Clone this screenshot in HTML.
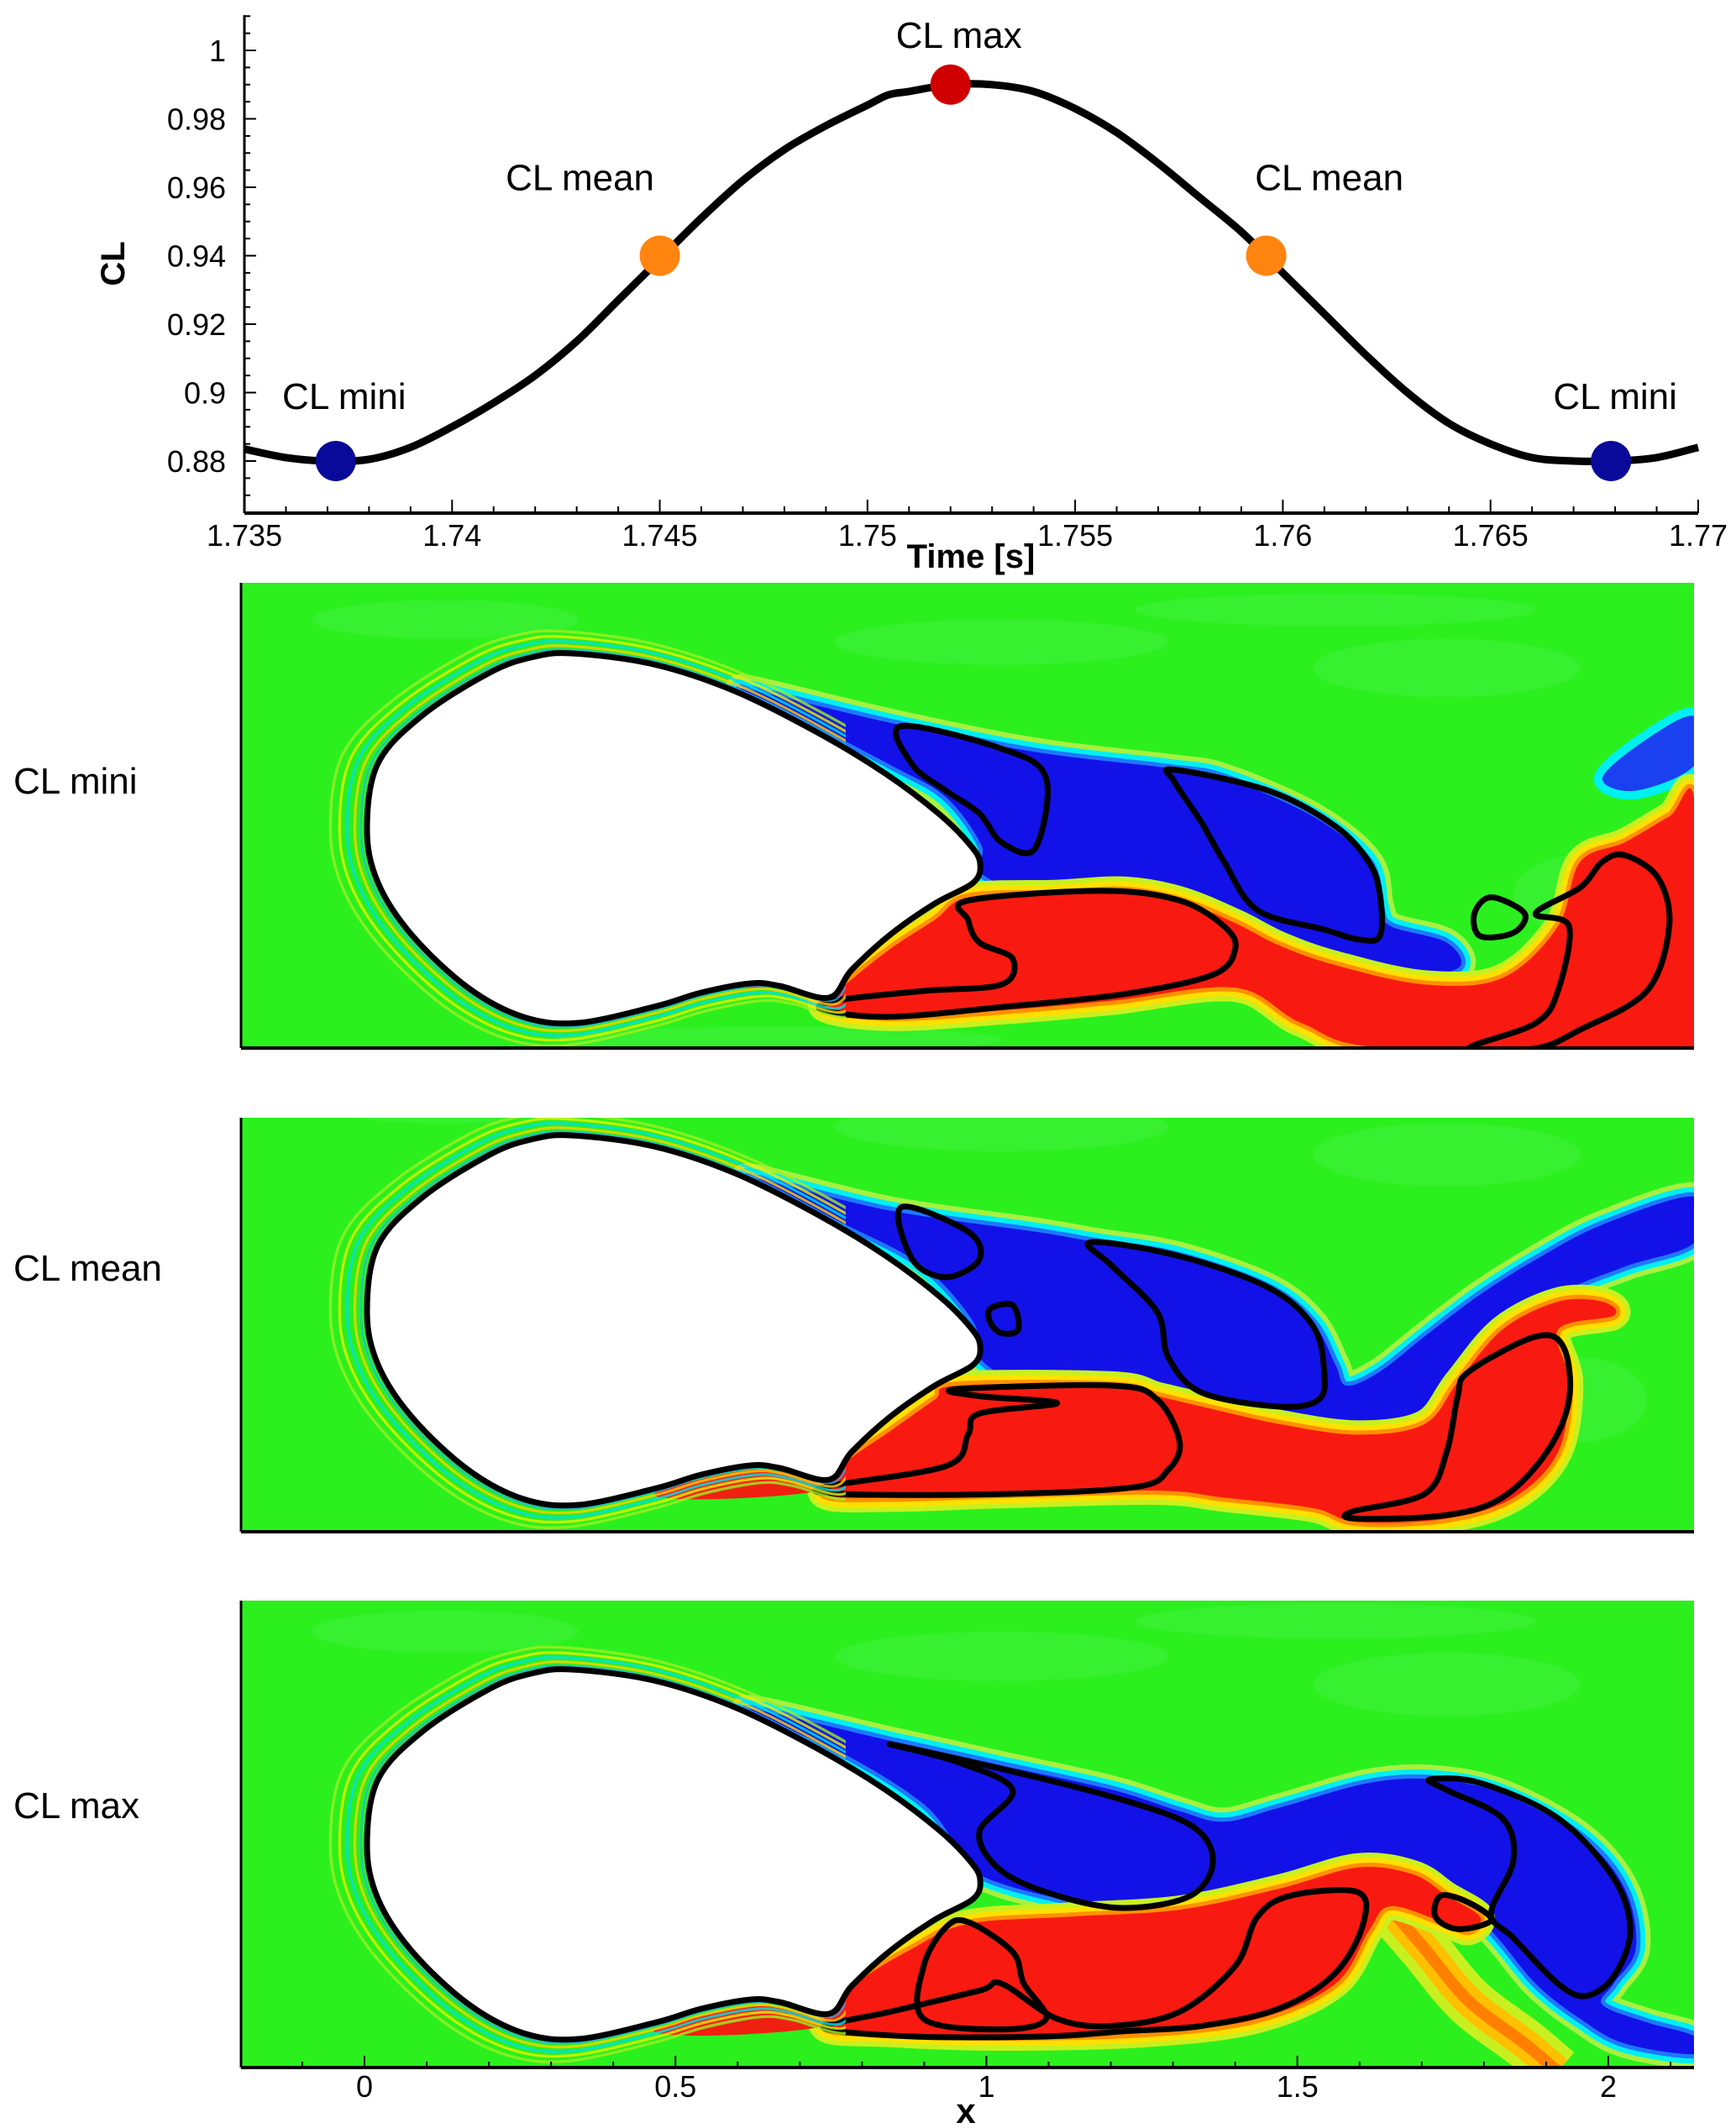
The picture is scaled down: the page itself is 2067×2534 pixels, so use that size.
<!DOCTYPE html>
<html><head><meta charset="utf-8"><style>
html,body{margin:0;padding:0;background:#fff;}
svg{display:block;font-family:"Liberation Sans",sans-serif;}
</style></head><body>
<svg id="svg" width="2067" height="2534" viewBox="0 0 2067 2534" xmlns="http://www.w3.org/2000/svg">
<g id="chart"></g>
<g id="panels"></g>
</svg>
<script>
// ---- chart data ----
const times = [1.735,1.736,1.737,1.738,1.739,1.740,1.741,1.742,1.743,1.744,1.745,1.746,1.747,1.748,1.749,1.750,1.7505,1.751,1.752,1.753,1.754,1.755,1.756,1.757,1.758,1.759,1.760,1.761,1.762,1.763,1.764,1.765,1.766,1.767,1.768,1.769,1.770];
const clValues = [0.8835,0.881,0.880,0.8805,0.884,0.890,0.897,0.905,0.915,0.927,0.939,0.951,0.962,0.971,0.978,0.984,0.987,0.988,0.990,0.990,0.988,0.983,0.976,0.967,0.957,0.947,0.935,0.923,0.911,0.900,0.891,0.885,0.881,0.880,0.880,0.881,0.884];
const markerTimes = [1.7372,1.745,1.752,1.7596,1.7679];
const markerValues = [0.880,0.940,0.990,0.940,0.880];
const markerLabels = ["CL mini","CL mean","CL max","CL mean","CL mini"];
const markerColors = ["#0a0a9a","#ff8410","#d00000","#ff8410","#0a0a9a"];
const xTickLabels = ["1.735","1.74","1.745","1.75","1.755","1.76","1.765","1.77"];
const yTickLabels = ["0.88","0.9","0.92","0.94","0.96","0.98","1"];
const panelXTicks = ["0","0.5","1","1.5","2"];

const NS="http://www.w3.org/2000/svg";
function mk(tag, attrs, parent){const e=document.createElementNS(NS,tag);for(const k in attrs)e.setAttribute(k,attrs[k]);parent.appendChild(e);return e;}
function cr(pts,closed){
 const n=pts.length;let s='M'+pts[0][0]+','+pts[0][1];
 const g=i=>closed?pts[(i+n)%n]:pts[Math.max(0,Math.min(n-1,i))];
 const last=closed?n:n-1;
 for(let i=0;i<last;i++){const p0=g(i-1),p1=g(i),p2=g(i+1),p3=g(i+2);
  s+=' C'+(p1[0]+(p2[0]-p0[0])/6).toFixed(1)+','+(p1[1]+(p2[1]-p0[1])/6).toFixed(1)+' '+(p2[0]-(p3[0]-p1[0])/6).toFixed(1)+','+(p2[1]-(p3[1]-p1[1])/6).toFixed(1)+' '+p2[0]+','+p2[1];}
 return s+(closed?' Z':'');}
const chart=document.getElementById('chart');
const X0=291,X1=2022,T0=1.735,T1=1.770;
const sx=t=>X0+(t-T0)/(T1-T0)*(X1-X0);
const sy=v=>549-(v-0.88)*4075;
const AXB=611, AXT=18;

let a=mk('line',{x1:X0,y1:AXT,x2:X0,y2:AXB,stroke:'#000','stroke-width':3},chart);


a=mk('line',{x1:X0,y1:AXB,x2:X1,y2:AXB,stroke:'#000','stroke-width':4},chart);


for(let i=0;i<=35;i++){const t=T0+i*0.001;const x=sx(t);const maj=i%5===0;
 mk('line',{x1:x,y1:AXB,x2:x,y2:AXB-(maj?16:8),stroke:'#000','stroke-width':2},chart);}
xTickLabels.forEach(s=>{const t=parseFloat(s);const e=mk('text',{x:sx(t),y:650,'font-size':36,'text-anchor':'middle'},chart);e.textContent=s;
 
 });
for(let v=0.865;v<=1.0101;v+=0.005){const y=sy(v);const maj=Math.abs(Math.round(v*100)-v*100)<1e-6&&Math.round(v*100)%2===0;
 mk('line',{x1:X0,y1:y,x2:X0+(maj?14:7),y2:y,stroke:'#000','stroke-width':2},chart);}
yTickLabels.forEach(s=>{const v=parseFloat(s);const e=mk('text',{x:269,y:sy(v)+13,'font-size':36,'text-anchor':'end'},chart);e.textContent=s;
 
 });
let t=mk('text',{x:1156,y:676,'font-size':40,'font-weight':'bold','text-anchor':'middle'},chart);t.textContent='Time [s]';


t=mk('text',{x:0,y:0,'font-size':40,'font-weight':'bold','text-anchor':'middle',transform:'translate(148,314) rotate(-90)'},chart);t.textContent='CL';


const cpts=times.map((tt,i)=>[+sx(tt).toFixed(1),+sy(clValues[i]).toFixed(1)]);
let c=mk('path',{d:cr(cpts,false),fill:'none',stroke:'#000','stroke-width':9,'stroke-linejoin':'round'},chart);


markerTimes.forEach((mt,i)=>{
 const m=mk('circle',{cx:sx(mt),cy:sy(markerValues[i]),r:24,fill:markerColors[i]},chart);
 
 
 const up = markerValues[i]>0.95 ? 44 : (markerValues[i]>0.9? 78 : 62);
 const lx = sx(mt) + (i===0? 10 : (i===4? 5 : (i===1? -95 : (i===3? 75:10))));
 const l=mk('text',{x:lx,y:sy(markerValues[i])-up,'font-size':44,'text-anchor':'middle'},chart);l.textContent=markerLabels[i];
 
 
});

// ---- panels ----
const panels=document.getElementById('panels');
const body=[[680,0],[778,13],[875,45],[973,94],[1054,143],[1119,192],[1155,228],[1167,250],[1159,273],[1113,298],[1060,335],[1014,377],[987,410],[928,396],[894,393],[835,404],[782,420],[689,440],[623,433],[557,398],[490,335],[450,273],[437,210],[450,131],[504,73],[583,23],[632,5]];
const P=[
 {name:'cl-mini',label:'CL mini',top:694,bot:1248,off:680,h:600,bodyTop:778,ly:945,
  blue:[[670,365],[800,470],[930,560],[1050,610],[1100,640],[1180,760],[1230,900],[1240,1040],[1250,1100],[1300,1150],[1310,1230],[1250,1250],[1150,1170],[1100,1090],[1000,1020],[920,990],[880,930],[882,850],[850,700],[800,600],[700,420]],
  blue2:[[1440,640],[1480,520],[1523,450],[1523,600],[1470,680]],
  red:[[870,1010],[950,1000],[1010,990],[1060,1020],[1110,1090],[1150,1160],[1200,1220],[1280,1280],[1350,1260],[1400,1100],[1420,900],[1460,840],[1500,760],[1523,720],[1523,1478],[1250,1478],[1170,1400],[1110,1290],[1000,1330],[900,1360],[800,1380],[740,1350],[760,1280],[800,1170],[840,1080]],
  cont:[
   [[1055,615],[1140,680],[1200,790],[1230,900],[1240,1000],[1240,1130],[1220,1140],[1190,1110],[1130,1050],[1100,900],[1080,780],[1055,650]],
   [[810,480],[900,550],[940,640],[930,860],[900,840],[880,750],[850,680],[820,600]],
   [[870,1020],[990,990],[1060,1020],[1100,1100],[1110,1170],[1090,1250],[1010,1310],[900,1350],[800,1380],[740,1360],[750,1330],[830,1300],[900,1280],[910,1200],[880,1150],[870,1080]],
   [[1460,880],[1490,950],[1500,1100],[1480,1300],[1420,1420],[1380,1478],[1320,1478],[1380,1400],[1400,1300],[1410,1100],[1380,1060],[1420,980],[1440,900]],
   [[1340,1010],[1370,1060],[1360,1120],[1330,1130],[1325,1060]]]},
 {name:'cl-mean',label:'CL mean',top:1331,bot:1824,off:1250,h:650,bodyTop:1352,ly:1525,
  blue:[[670,365],[800,460],[930,520],[985,550],[1060,590],[1140,680],[1180,780],[1200,900],[1210,960],[1240,920],[1280,820],[1330,700],[1380,600],[1440,500],[1523,420],[1523,550],[1460,620],[1400,700],[1330,850],[1300,1000],[1260,1080],[1220,1100],[1150,1060],[1080,1000],[1000,960],[920,950],[880,880],[875,780],[830,620],[760,500]],
  blue2:null,
  red:[[860,960],[1000,960],[1040,990],[1080,1020],[1150,1070],[1220,1100],[1280,1070],[1310,950],[1350,800],[1400,720],[1440,720],[1450,760],[1400,800],[1410,950],[1400,1150],[1360,1280],[1300,1340],[1220,1350],[1180,1310],[1100,1280],[1040,1260],[900,1270],[800,1280],[740,1270],[760,1180],[800,1090],[840,1000]],
  cont:[
   [[980,550],[1060,590],[1140,680],[1180,790],[1190,920],[1185,1000],[1150,1020],[1080,980],[1050,880],[1040,750],[1000,620]],
   [[890,740],[910,730],[915,800],[900,810],[890,780]],
   [[810,450],[870,520],[880,600],[850,650],[820,600]],
   [[860,970],[1000,960],[1040,1000],[1060,1120],[1050,1200],[1020,1250],[900,1270],[760,1270],[740,1250],[850,1190],[870,1100],[880,1040],[950,1010],[880,990]],
   [[1380,820],[1405,850],[1410,1000],[1390,1150],[1350,1280],[1300,1330],[1220,1340],[1215,1320],[1280,1270],[1300,1150],[1310,990],[1320,920]]]},
 {name:'cl-max',label:'CL max',top:1906,bot:2462,off:1880,h:654,bodyTop:1988,ly:2165,
  blue:[[670,370],[800,460],[900,530],[1000,600],[1060,660],[1100,690],[1150,650],[1230,580],[1290,570],[1350,610],[1420,730],[1460,880],[1470,1050],[1450,1150],[1440,1210],[1480,1260],[1523,1300],[1523,1350],[1460,1320],[1420,1250],[1380,1150],[1340,1000],[1290,860],[1240,810],[1180,830],[1100,900],[1020,940],[940,900],[880,840],[860,760],[830,640],[760,500]],
  blue2:null,
  red:[[870,980],[960,960],[1060,940],[1150,880],[1220,820],[1270,840],[1300,900],[1330,960],[1320,1000],[1300,980],[1250,930],[1230,1000],[1200,1150],[1130,1250],[1030,1290],[900,1300],[800,1290],[740,1270],[770,1150],[820,1050]],
  cont:[
   [[800,470],[900,540],[1000,620],[1070,700],[1090,800],[1070,900],[1010,935],[950,900],[900,830],[880,720],[910,600],[860,520]],
   [[1285,570],[1330,580],[1400,680],[1450,850],[1465,1000],[1450,1130],[1425,1185],[1400,1150],[1360,1020],[1340,950],[1360,800],[1350,680],[1300,600]],
   [[1160,900],[1220,890],[1225,980],[1200,1120],[1150,1220],[1080,1270],[1010,1285],[940,1300],[820,1300],[740,1275],[800,1230],[880,1170],[900,1150],[950,1250],[1000,1270],[1060,1230],[1110,1100],[1130,960]],
   [[850,990],[870,975],[910,1060],[920,1150],[940,1250],[900,1280],[830,1250],[830,1100]],
   [[1295,900],[1320,920],[1340,970],[1310,995],[1290,960]]]}
];
let clipId=0;
P.forEach((p,pi)=>{
 const g=mk('g',{},panels);
 
 
 const cid='clip'+(clipId++);
 const cp=mk('clipPath',{id:cid},g);mk('rect',{x:287,y:p.top,width:1730,height:p.bot-p.top},cp);
 const lid='lclip'+pi;
 const lcp=mk('clipPath',{id:lid},g);mk('rect',{x:287,y:p.top,width:720,height:p.bot-p.top},lcp);
 const inner=mk('g',{'clip-path':'url(#'+cid+')'},g);
 mk('rect',{x:287,y:p.top,width:1730,height:p.bot-p.top,fill:'#2bf01e'},inner);
 const zg=mk('g',{transform:'translate(0,'+p.off+') scale(1.325,'+(p.h/1560).toFixed(5)+')'},inner);
 [[400,150,120,60],[900,220,150,70],[1300,300,120,90],[1200,120,180,50],[700,1450,200,40],[1420,1000,60,120]].forEach(q=>mk('ellipse',{cx:q[0],cy:q[1],rx:q[2],ry:q[3],fill:'#44f040',opacity:0.5},zg));
 const cx=800,cy=p.bodyTop+220;
 const bpts=body.map(q=>[q[0],q[1]+p.bodyTop]);
 const bd=cr(bpts,true);
 const lg=mk('g',{'clip-path':'url(#'+lid+')'},inner);
 [[1.12,'#9cf020',3],[1.09,'#e8f000',3],[1.065,'#00e0e8',3],[1.04,'#ffd000',3],[1.02,'#20b0ff',2]].forEach(b=>{
  mk('path',{d:bd,fill:'none',stroke:b[1],'stroke-width':b[2],transform:`translate(${cx},${cy}) scale(${b[0]}) translate(${-cx},${-cy})`,opacity:0.8},lg);});
 const ns={'vector-effect':'non-scaling-stroke'};
 const addR=(pts,fill,strokes,nm)=>{const dd=cr(pts,true);
  strokes.forEach(s=>mk('path',Object.assign({d:dd,fill:'none',stroke:s[0],'stroke-width':s[1],'stroke-linejoin':'round'},ns),zg));
  const e=mk('path',{d:dd,fill:fill},zg);};
 addR(p.blue,'#1212e8',[['#a8f040',34],['#00f0f0',22],['#1e78ff',10]],'negative-vorticity-region');
 if(p.blue2) addR(p.blue2,'#1a40f0',[['#00f0f0',20]],'negative-vorticity-region');
 if(pi===2){
  const pl=cr([[1250,940],[1280,1050],[1320,1200],[1370,1320],[1400,1400]],false);
  mk('path',Object.assign({d:pl,fill:'none',stroke:'#c8f020','stroke-width':60},ns),zg);
  mk('path',Object.assign({d:pl,fill:'none',stroke:'#ffc000','stroke-width':36},ns),zg);
  mk('path',Object.assign({d:pl,fill:'none',stroke:'#ff8000','stroke-width':14},ns),zg);
 }
 addR(p.red,'#f81a10',[['#c8f020',34],['#ffe000',22],['#ff9000',10]],'positive-vorticity-region');
 const sh=(p.bodyTop-p.off)*1560/p.h-245;
 mk('path',{d:cr([[590,1265],[680,1200],[740,1250],[700,1275],[620,1285]].map(q=>[q[0],q[1]+sh]),true),fill:'#f02010'},zg);
 const bb=mk('path',{d:bd,fill:'#fff',stroke:'#000','stroke-width':7},inner);
 
 
 p.cont.forEach(cc=>{const e=mk('path',Object.assign({d:cr(cc,true),fill:'none',stroke:'#000','stroke-width':7,'stroke-linejoin':'round'},ns),zg);
  
  });
 mk('line',{x1:287,y1:p.top,x2:287,y2:p.bot,stroke:'#000','stroke-width':3},g);
 mk('line',{x1:287,y1:p.bot,x2:2017,y2:p.bot,stroke:'#000','stroke-width':4},g);
 const lb=mk('text',{x:16,y:p.ly,'font-size':44},g);lb.textContent=p.label;
 
 
});
const px=v=>434+v*740.5;
for(let i=-1;i<=21;i++){const v=i*0.1;const x=px(v);if(x<287||x>2017)continue;const maj=i%5===0;
 mk('line',{x1:x,y1:2462,x2:x,y2:2462-(maj?14:7),stroke:'#000','stroke-width':2},panels);}
panelXTicks.forEach(s=>{const e=mk('text',{x:px(parseFloat(s)),y:2497,'font-size':36,'text-anchor':'middle'},panels);e.textContent=s;
 
 });
const xl=mk('text',{x:1150,y:2528,'font-size':42,'font-weight':'bold','text-anchor':'middle'},panels);xl.textContent='x';


</script>
</body></html>
